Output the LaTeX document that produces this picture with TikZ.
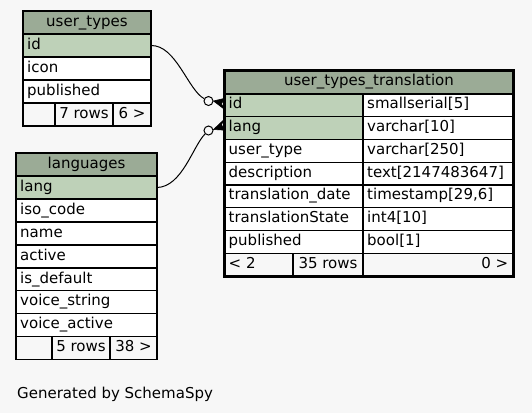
\documentclass[tikz,border=0pt]{standalone}
\usepackage{fontspec}
\setmainfont{DejaVu Sans}
\newcommand\erdfont{\fontsize{15}{18}\selectfont}
\definecolor{bgc}{HTML}{F7F7F7}
\definecolor{hdrc}{HTML}{9BAB96}
\definecolor{keyc}{HTML}{BED1B8}
\tikzset{
  cellbox/.style={draw=black, line width=1.3pt, inner sep=0pt, outer sep=0pt, rectangle},
  txt/.style={inner sep=0pt, text height=10.8pt, text depth=3.6pt, font=\erdfont, text=black},
  circ/.style={circle, draw=black, line width=1pt, fill=bgc, minimum size=9pt, inner sep=0pt},
  rel/.style={draw=black, line width=1pt},
  crowf/.style={fill=black, draw=black, line width=0.6pt, line join=miter},
}
% name, x, y, w, h, fill
\newcommand\tcell[6]{\node[cellbox, fill=#6, minimum width=#4pt, minimum height=#5pt, anchor=north west] (#1) at (#2,#3) {};}
\newcommand\tl[2]{\node[txt, anchor=west, xshift=4pt] (#1-t) at (#1.west) {#2};}
\newcommand\tr[2]{\node[txt, anchor=east, xshift=-5pt] (#1-t) at (#1.east) {#2};}
\newcommand\tc[2]{\node[txt] (#1-t) at (#1.center) {#2};}
\begin{document}
\begin{tikzpicture}[x=1pt,y=-1pt]
\path[fill=bgc] (0,0) rectangle (532,413);
\useasboundingbox (0,0) rectangle (532,413);

% ---------- user_types ----------
\tcell{uth}{23}{11}{128}{23}{hdrc}\tc{uth}{user\_types}
\tcell{utid}{23}{34}{128}{23}{keyc}\tl{utid}{id}
\tcell{uticon}{23}{57}{128}{23}{white}\tl{uticon}{icon}
\tcell{utpub}{23}{80}{128}{23}{white}\tl{utpub}{published}
\tcell{utf1}{23}{103}{32}{23}{bgc}
\tcell{utf2}{55}{103}{58}{23}{bgc}\tc{utf2}{7 rows}
\tcell{utf3}{113}{103}{38}{23}{bgc}\tc{utf3}{6 >}

% ---------- languages ----------
\tcell{lgh}{16}{153}{141}{23}{hdrc}\tc{lgh}{languages}
\tcell{lglang}{16}{176}{141}{23}{keyc}\tl{lglang}{lang}
\tcell{lgiso}{16}{199}{141}{23}{white}\tl{lgiso}{iso\_code}
\tcell{lgname}{16}{222}{141}{23}{white}\tl{lgname}{name}
\tcell{lgact}{16}{245}{141}{23}{white}\tl{lgact}{active}
\tcell{lgdef}{16}{268}{141}{23}{white}\tl{lgdef}{is\_default}
\tcell{lgvs}{16}{290.5}{141}{23}{white}\tl{lgvs}{voice\_string}
\tcell{lgva}{16}{313.5}{141}{23}{white}\tl{lgva}{voice\_active}
\tcell{lgf1}{16}{336.5}{36}{23}{bgc}
\tcell{lgf2}{52}{336.5}{58}{23}{bgc}\tc{lgf2}{5 rows}
\tcell{lgf3}{110}{336.5}{47}{23}{bgc}\tc{lgf3}{38 >}

% ---------- user_types_translation ----------
\tcell{trh}{224.5}{70}{289}{24}{hdrc}\tc{trh}{user\_types\_translation}
\tcell{trid}{224.5}{94}{138.5}{22.75}{keyc}\tl{trid}{id}
\tcell{trid2}{363}{94}{150.5}{22.75}{white}\tl{trid2}{smallserial[5]}
\tcell{trlang}{224.5}{116.75}{138.5}{22.75}{keyc}\tl{trlang}{lang}
\tcell{trlang2}{363}{116.75}{150.5}{22.75}{white}\tl{trlang2}{varchar[10]}
\tcell{trut}{224.5}{139.5}{138.5}{22.75}{white}\tl{trut}{user\_type}
\tcell{trut2}{363}{139.5}{150.5}{22.75}{white}\tl{trut2}{varchar[250]}
\tcell{trds}{224.5}{162.25}{138.5}{22.75}{white}\tl{trds}{description}
\tcell{trds2}{363}{162.25}{150.5}{22.75}{white}\tl{trds2}{text[2147483647]}
\tcell{trtd}{224.5}{185}{138.5}{22.75}{white}\tl{trtd}{translation\_date}
\tcell{trtd2}{363}{185}{150.5}{22.75}{white}\tl{trtd2}{timestamp[29,6]}
\tcell{trts}{224.5}{207.75}{138.5}{22.75}{white}\tl{trts}{translationState}
\tcell{trts2}{363}{207.75}{150.5}{22.75}{white}\tl{trts2}{int4[10]}
\tcell{trpb}{224.5}{230.5}{138.5}{22.75}{white}\tl{trpb}{published}
\tcell{trpb2}{363}{230.5}{150.5}{22.75}{white}\tl{trpb2}{bool[1]}
\tcell{trf1}{224.5}{253.25}{68.5}{23}{bgc}\tl{trf1}{< 2}
\tcell{trf2}{293}{253.25}{70}{23}{bgc}\tc{trf2}{35 rows}
\tcell{trf3}{363}{253.25}{150.5}{23}{bgc}\tr{trf3}{0 >}
\node[draw=black, line width=3pt, fill=none, inner sep=0pt, outer sep=0pt, minimum width=289pt, minimum height=206.5pt, anchor=north west] (trbox) at (224.5,70) {};

% ---------- relationships ----------
\node[circ] (c1) at (208.5,101) {};
\node[circ] (c2) at (208.5,130.5) {};
\draw[rel] (utid.east) .. controls (176,45) and (188,90) .. (c1);
\draw[rel] (lglang.east) .. controls (182,187) and (193,146) .. (c2);
\filldraw[crowf] (c1.east) -- ([yshift=7pt]trid.west) -- ([xshift=-3pt,yshift=1.5pt]trid.west) -- ([yshift=-4pt]trid.west) -- cycle;
\filldraw[crowf] ([yshift=1pt]c2.east) -- ([yshift=9pt]trlang.west) -- ([xshift=-3pt,yshift=3.5pt]trlang.west) -- ([yshift=-2pt]trlang.west) -- cycle;

\node[txt, anchor=base west] (gen) at (17,398) {Generated by SchemaSpy};
\end{tikzpicture}
\end{document}
